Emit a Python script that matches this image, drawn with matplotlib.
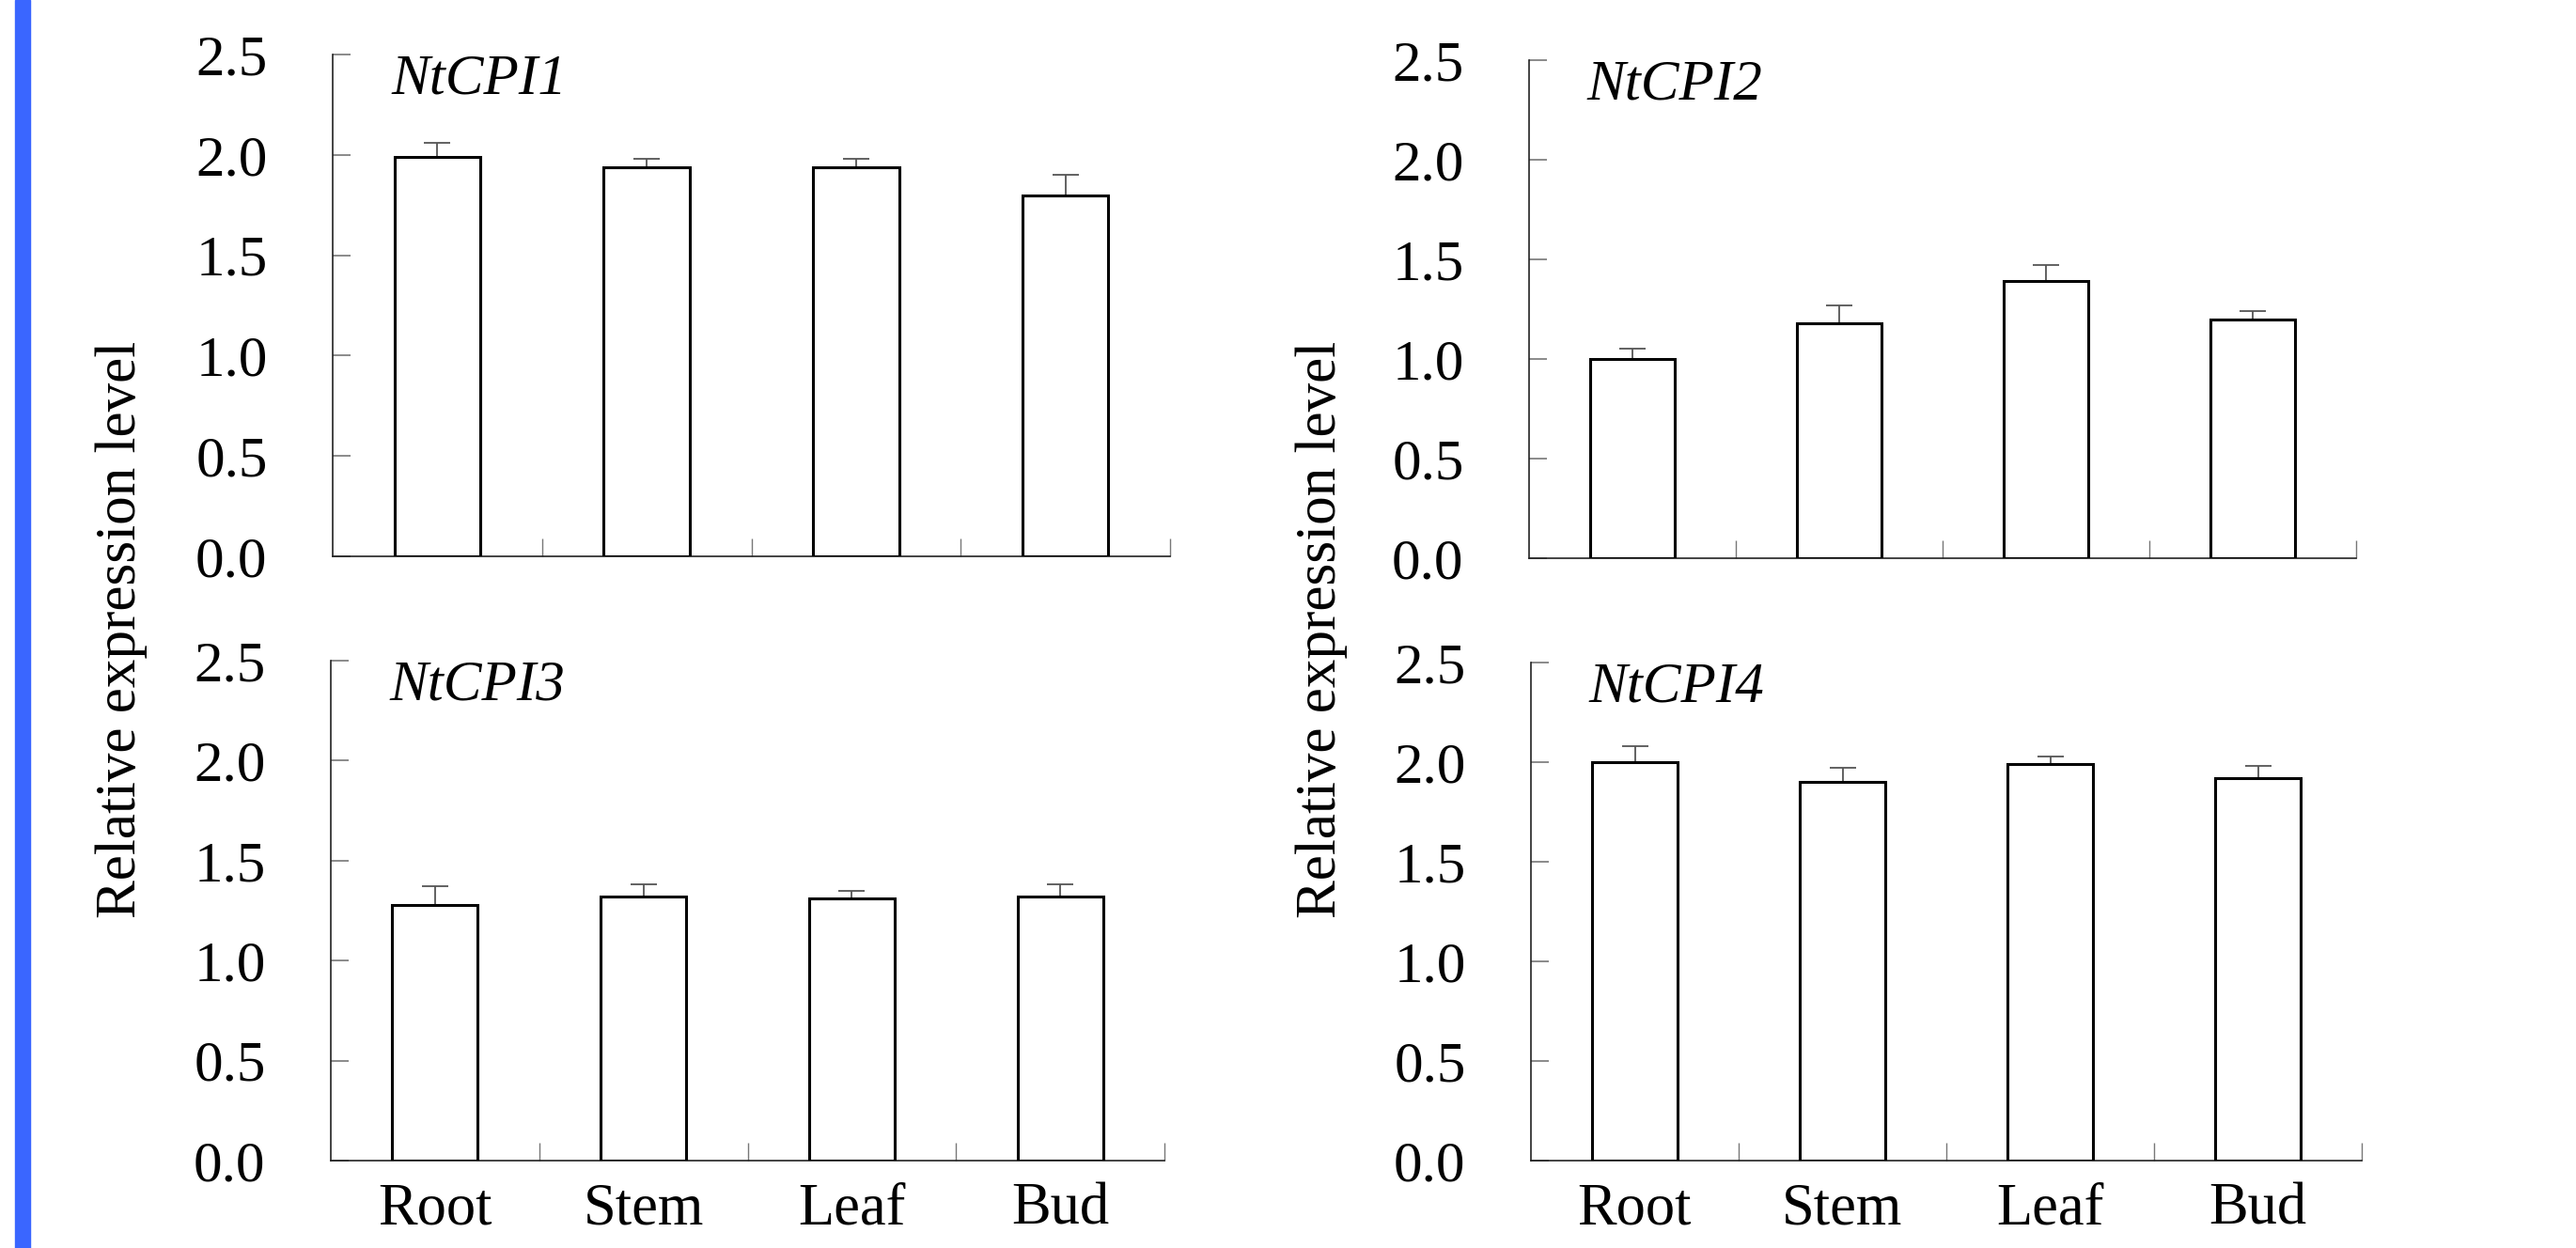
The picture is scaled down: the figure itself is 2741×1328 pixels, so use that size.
import matplotlib
matplotlib.use("Agg")
import matplotlib.pyplot as plt
from matplotlib.patches import Rectangle

plt.rcParams["font.family"] = ["Liberation Serif", "DejaVu Serif"]

categories = ["Root", "Stem", "Leaf", "Bud"]
genes = ["NtCPI1", "NtCPI2", "NtCPI3", "NtCPI4"]

cpi1_mean = [1.99, 1.94, 1.94, 1.80]
cpi1_err = [0.07, 0.04, 0.04, 0.10]
cpi2_mean = [1.00, 1.18, 1.39, 1.20]
cpi2_err = [0.05, 0.09, 0.08, 0.04]
cpi3_mean = [1.28, 1.32, 1.31, 1.32]
cpi3_err = [0.09, 0.06, 0.04, 0.06]
cpi4_mean = [2.00, 1.90, 1.99, 1.92]
cpi4_err = [0.08, 0.07, 0.04, 0.06]

y_ticks = [0.0, 0.5, 1.0, 1.5, 2.0, 2.5]

W, H = 2741, 1328
fig = plt.figure(figsize=(W / 100, H / 100), dpi=100)

# axes boxes in pixels: left, top, right, bottom
boxes = [
    (354, 58, 1245, 592),
    (1627, 64, 2507, 594),
    (352, 703, 1239, 1235),
    (1629, 705, 2513, 1235),
]
means = [cpi1_mean, cpi2_mean, cpi3_mean, cpi4_mean]
errs = [cpi1_err, cpi2_err, cpi3_err, cpi4_err]

x = list(range(len(categories)))
for i, (l, t, r, b) in enumerate(boxes):
    ax = fig.add_axes([l / W, 1 - b / H, (r - l) / W, (b - t) / H])
    ax.bar(x, means[i], width=0.41, color="white", edgecolor="black",
           linewidth=2.2, zorder=3)
    ax.errorbar(x, means[i], yerr=[[0] * 4, errs[i]], fmt="none",
                ecolor="#555555", elinewidth=1.3, capsize=10, capthick=1.3,
                zorder=2)
    ax.set_xlim(-0.5, 3.5)
    ax.set_ylim(0, 2.5)
    for s in ["top", "right"]:
        ax.spines[s].set_visible(False)
    for s in ["left", "bottom"]:
        ax.spines[s].set_linewidth(1.2)
        ax.spines[s].set_color("#222222")
    ax.set_yticks(y_ticks)
    ax.set_yticklabels([f"{v:.1f}" for v in y_ticks])
    ax.tick_params(axis="y", direction="in", length=13.5, width=1.2,
                   color="#777777", labelsize=44, pad=50)
    ax.set_xticks([k + 0.5 for k in x], minor=True)
    ax.tick_params(axis="x", which="minor", direction="in", length=13.5,
                   width=1.0, color="#777777")
    ax.set_xticks(x)
    if i >= 2:
        ax.set_xticklabels(categories)
    else:
        ax.set_xticklabels([])
    ax.tick_params(axis="x", which="major", length=0, labelsize=45, pad=17)
    ax.text(0.07, 0.95, genes[i], transform=ax.transAxes, fontsize=44,
            style="italic", va="center", ha="left")

fig.text(0.047, 0.4955, "Relative expression level", rotation=90,
         fontsize=44, ha="center", va="center")
fig.text(0.513, 0.4955, "Relative expression level", rotation=90,
         fontsize=44, ha="center", va="center")

# blue strip at the left edge
fig.patches.append(Rectangle((16 / W, 0), 16 / W, 1, transform=fig.transFigure,
                             color="#3a66ff", zorder=0))

fig.savefig("out.png", dpi=100)
